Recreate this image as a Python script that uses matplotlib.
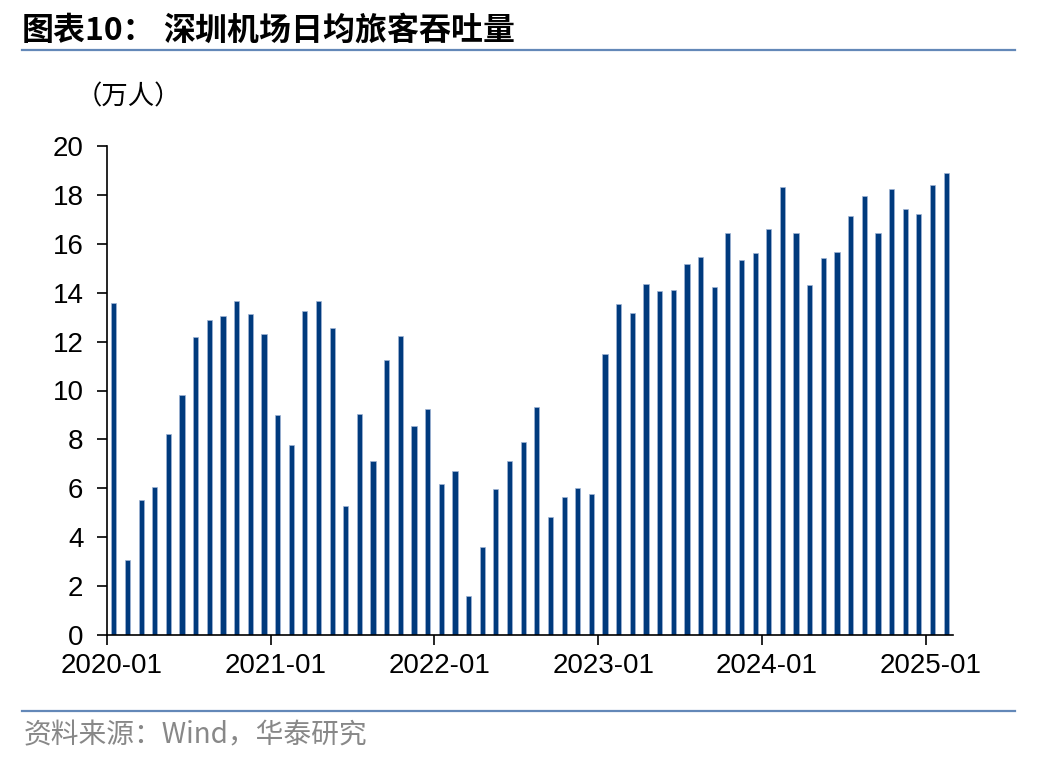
import numpy as np
import matplotlib
matplotlib.use("Agg")
import matplotlib.pyplot as plt
import matplotlib.transforms as mtransforms
from matplotlib.lines import Line2D

plt.rcParams['font.family'] = ['Liberation Sans', 'Noto Sans CJK SC', 'DejaVu Sans']

# monthly daily-average passenger throughput, 2020-01 .. 2025-02 (10k persons)
months = ["%d-%02d" % (2020 + i // 12, i % 12 + 1) for i in range(62)]
values = [13.56, 3.07, 5.52, 6.05, 8.22, 9.83, 12.17, 12.87, 13.06, 13.67, 13.12, 12.31,
          8.98, 7.77, 13.27, 13.67, 12.57, 5.28, 9.04, 7.12, 11.23, 12.24, 8.53, 9.24,
          6.16, 6.69, 1.61, 3.60, 5.96, 7.12, 7.88, 9.33, 4.83, 5.63, 6.01, 5.77,
          11.49, 13.52, 13.16, 14.34, 14.07, 14.10, 15.19, 15.45, 14.23, 16.43, 15.35, 15.64,
          16.61, 18.31, 16.43, 14.31, 15.42, 15.65, 17.15, 17.97, 16.44, 18.24, 17.41, 17.23,
          18.40, 18.88]
tick_labels = ["2020-01", "2021-01", "2022-01", "2023-01", "2024-01", "2025-01"]

bar_color = "#003A7D"
rule_color = "#6388B8"

fig = plt.figure(figsize=(10.48, 7.6), dpi=100)
ax = fig.add_axes([107/1048, 1-635/760, (953-107)/1048, (635-146)/760])

x = np.arange(len(values)) + 0.5
ax.bar(x, values, width=0.38, color=bar_color, edgecolor="#9FB4D4", linewidth=0.5)

ax.set_xlim(0, len(values))
ax.set_ylim(0, 20)
ax.set_yticks(np.arange(0, 21, 2))
ax.set_xticks([months.index(t) for t in tick_labels])
ax.set_xticklabels(tick_labels)

for s in ["top", "right"]:
    ax.spines[s].set_visible(False)
for s in ["left", "bottom"]:
    ax.spines[s].set_linewidth(1.2)
ax.tick_params(axis='both', direction='out', length=7, width=1.2, labelsize=20, colors='black')
ax.tick_params(axis='y', pad=10)
ax.tick_params(axis='x', pad=6)

# labels sit a little right of the tick, as in the source chart
shift = mtransforms.ScaledTranslation(5/100, 0, fig.dpi_scale_trans)
for lab in ax.get_xticklabels():
    lab.set_transform(lab.get_transform() + shift)

fig.text(22/1048, 1-31/760, "图表10：", fontsize=23, fontweight='bold',
         family=['Noto Sans CJK SC'], va='center', ha='left')
fig.text(163/1048, 1-31/760, "深圳机场日均旅客吞吐量", fontsize=23, fontweight='bold',
         family=['Noto Sans CJK SC'], va='center', ha='left')
fig.text(76/1048, 1-97/760, "（万人）", fontsize=19, family=['Noto Sans CJK SC'], va='center', ha='left')
fig.text(24/1048, 1-735/760, "资料来源：Wind，华泰研究", fontsize=20, color="#888888",
         family=['Noto Sans CJK SC'], va='center', ha='left')

fig.add_artist(Line2D([22/1048, 1015/1048], [1-50/760, 1-50/760], color=rule_color, linewidth=1.6))
fig.add_artist(Line2D([22/1048, 1015/1048], [1-711/760, 1-711/760], color=rule_color, linewidth=1.6))

fig.savefig("out.png", dpi=100)
